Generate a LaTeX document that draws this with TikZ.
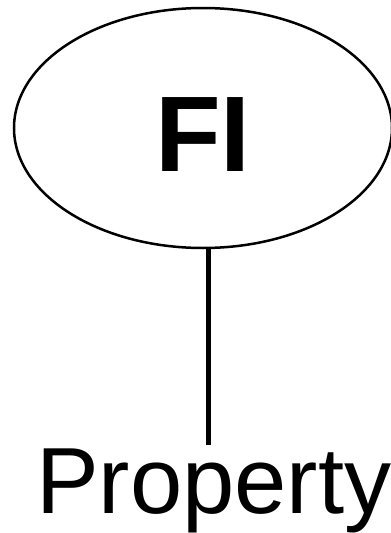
\documentclass[tikz,border=0pt]{standalone}
\usepackage{fontspec}
\setmainfont{Liberation Sans}
\usetikzlibrary{shapes.geometric,positioning}

\begin{document}
\begin{tikzpicture}[
  x=1pt, y=1pt,
  oval/.style={draw, ellipse, line width=2.5pt, inner sep=0pt,
               minimum width=378pt, minimum height=240pt,
               font=\fontsize{107.5}{110}\selectfont\bfseries,
               text height=86pt, text depth=0pt},
  lbl/.style={inner sep=0pt, font=\fontsize{94}{96}\selectfont},
  ln/.style={line width=5pt}
]
\useasboundingbox (0,0) rectangle (391,-533);
\node[oval] (fi) at (203,-128) {FI};
\node[lbl, anchor=base west] (prop) at (36,-513) {Property};

\draw[ln] ([xshift=5pt]fi.south) -- ([xshift=5pt, yshift=3pt]fi.south |- prop.north);
\end{tikzpicture}
\end{document}
